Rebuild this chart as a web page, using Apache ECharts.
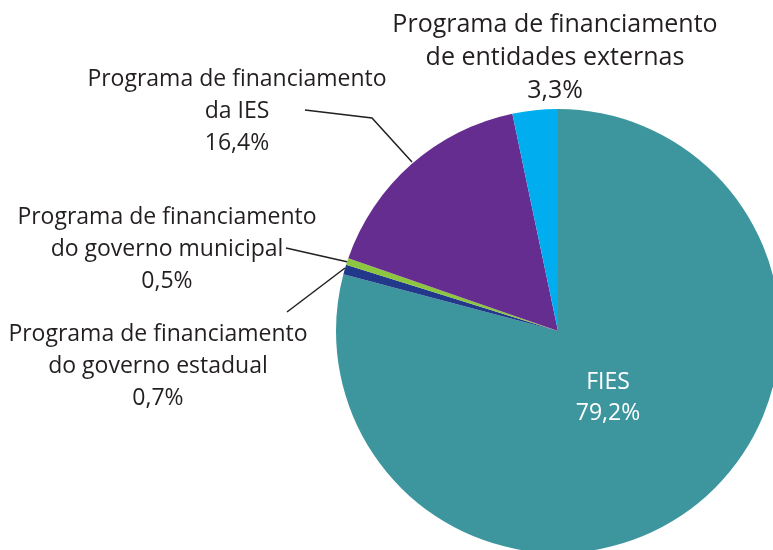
<!DOCTYPE html>
<html>
<head>
<meta charset="utf-8">
<script src="https://cdn.jsdelivr.net/npm/echarts@6/dist/echarts.min.js"></script>
<style>
    html, body { margin: 0; padding: 0; background: #fff; }
    #main { width: 773px; height: 550px; }
</style>
</head>
<body>
<div id="main"></div>
<script>
var categories = ['FIES', 'Programa de financiamento\ndo governo estadual', 'Programa de financiamento\ndo governo municipal', 'Programa de financiamento\nda IES', 'Programa de financiamento\nde entidades externas'];
var values = [79.2, 0.7, 0.5, 16.4, 3.3];
var colors = ['#3d969e', '#22388a', '#8dc63f', '#662d91', '#00aeef'];

// label placement per slice (center of text block + leader line)
var layouts = [
    { x: 608, y: 398, line: null },
    { x: 158, y: 366, line: [[345, 268], [287, 312], [287, 312]] },
    { x: 167, y: 249, line: [[348, 262], [286, 248], [286, 248]] },
    { x: 237, y: 111, line: [[412, 162], [372, 118], [305, 110]] },
    { x: 555, y: 58, line: null }
];

var myChart = echarts.init(document.getElementById('main'));

var pieData = categories.map(function (c, i) {
    var item = {
        name: c,
        value: values[i],
        itemStyle: { color: colors[i] }
    };
    if (i === 0) {
        item.label = { color: '#ffffff', position: 'inside', fontSize: 23, lineHeight: 31 };
    }
    if (i === 4) {
        item.label = { fontSize: 25, lineHeight: 33 };
    }
    return item;
});

var option = {
    backgroundColor: '#fff',
    animation: false,
    series: [
        {
            type: 'pie',
            center: [558, 331],
            radius: 222,
            startAngle: 90,
            clockwise: true,
            data: pieData,
            label: {
                show: true,
                position: 'outside',
                overflow: 'none',
                width: 400,
                fontFamily: 'Open Sans',
                fontSize: 23,
                lineHeight: 32,
                color: '#231f20',
                align: 'center',
                formatter: function (p) {
                    return p.name + '\n' + String(p.value).replace('.', ',') + '%';
                }
            },
            labelLine: {
                show: true,
                lineStyle: { color: '#231f20', width: 1.5 }
            },
            labelLayout: function (params) {
                var l = layouts[params.dataIndex];
                var res = { x: l.x, y: l.y, align: 'center', verticalAlign: 'middle' };
                if (l.line) {
                    res.labelLinePoints = l.line;
                } else {
                    res.labelLinePoints = [[0, 0], [0, 0], [0, 0]];
                }
                return res;
            }
        }
    ]
};

myChart.setOption(option);
</script>
</body>
</html>
